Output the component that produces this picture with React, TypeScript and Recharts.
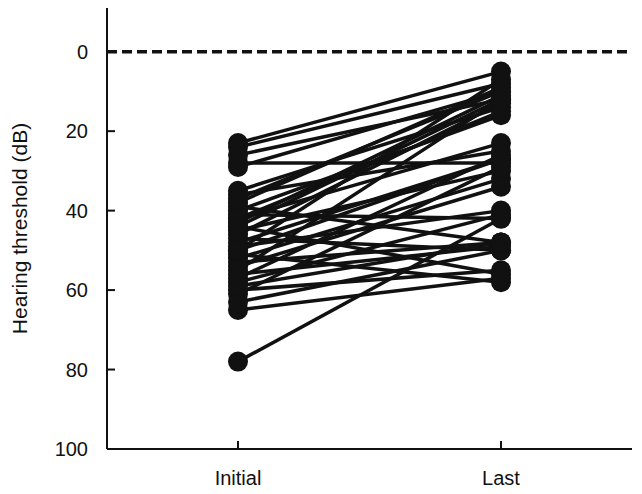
import { LineChart, Line, XAxis, YAxis, ReferenceLine } from 'recharts';

const categories = ['Initial', 'Last'];

// hearing threshold (dB) per patient, initial vs last
const initialValues = [
  23, 24, 26, 28, 29, 35, 36, 38, 40, 41, 42, 43, 44, 45, 46, 47, 48,
  49, 50, 51, 52, 53, 54, 55, 56, 57, 58, 60, 61, 63, 65, 78, 39, 42,
  37, 44, 50, 59,
];
const lastValues = [
  5, 8, 12, 28, 10, 14, 25, 9, 16, 42, 23, 11, 56, 30, 13, 50, 27,
  40, 7, 58, 32, 48, 34, 12, 49, 26, 41, 55, 29, 50, 57, 42, 48, 15,
  10, 12, 27, 48,
];

const yTicks = [0, 20, 40, 60, 80, 100];

const INK = '#111';
const FONT = '"Liberation Sans", Arial, sans-serif';

const rows = categories.map((name, i) => {
  const row: Record<string, string | number> = { name };
  initialValues.forEach((v, k) => {
    row['p' + k] = i === 0 ? v : lastValues[k];
  });
  return row;
});

const YTick = (props: any) => {
  const { x, y, payload } = props;
  return (
    <g>
      <line x1={x} y1={y} x2={x + 8} y2={y} stroke={INK} strokeWidth={2} />
      <text x={x - 19} y={y} dy="0.36em" textAnchor="end" fontSize={20} fontFamily={FONT} fill={INK}>
        {payload.value}
      </text>
    </g>
  );
};

const XTick = (props: any) => {
  const { x, y, payload } = props;
  return (
    <g>
      <line x1={x} y1={y} x2={x} y2={y - 8} stroke={INK} strokeWidth={2} />
      <text x={x} y={y + 36} textAnchor="middle" fontSize={20} fontFamily={FONT} fill={INK}>
        {payload.value}
      </text>
    </g>
  );
};

export default function App() {
  return (
    <div style={{ position: 'absolute', left: 0, top: 0, background: '#fff' }}>
      <LineChart width={642} height={494} data={rows} margin={{ top: 8, right: 10, bottom: 0, left: 0 }}>
        <XAxis
          dataKey="name"
          height={45}
          padding={{ left: 131, right: 131 }}
          tickSize={0}
          tickMargin={0}
          tick={<XTick />}
          axisLine={{ stroke: INK, strokeWidth: 2 }}
          tickLine={false}
        />
        <YAxis
          type="number"
          reversed
          domain={[-11, 100]}
          ticks={yTicks}
          allowDataOverflow
          width={107}
          tickSize={0}
          tickMargin={0}
          tick={<YTick />}
          tickLine={false}
          axisLine={{ stroke: INK, strokeWidth: 2 }}
          label={{
            value: 'Hearing threshold (dB)',
            angle: -90,
            position: 'insideLeft',
            dx: 15,
            style: { textAnchor: 'middle', fontSize: 21, fontFamily: FONT, fill: INK },
          }}
        />
        <ReferenceLine y={0} stroke={INK} strokeWidth={3.5} strokeDasharray="10 5" />
        {initialValues.map((_, k) => (
          <Line
            key={k}
            dataKey={'p' + k}
            type="linear"
            stroke={INK}
            strokeWidth={3.5}
            dot={{ r: 10, fill: INK, stroke: 'none' }}
            activeDot={false}
            isAnimationActive={false}
          />
        ))}
      </LineChart>
    </div>
  );
}
